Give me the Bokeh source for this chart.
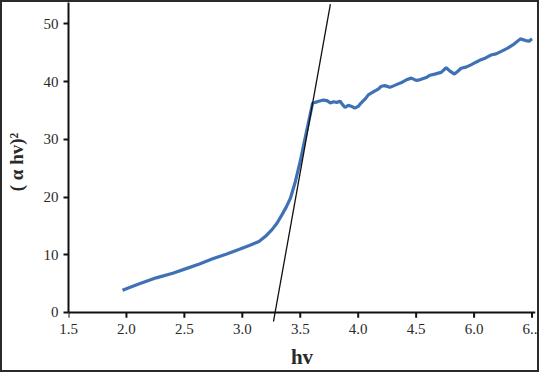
from bokeh.plotting import figure
from bokeh.models import Range1d, FixedTicker, Span
from bokeh.embed import file_html
from bokeh.resources import INLINE

# Tauc plot data (hv, (alpha hv)^2)
hv = [1.966, 2.10, 2.257, 2.40, 2.515, 2.63, 2.744, 2.86, 2.97, 3.06, 3.144, 3.20, 3.258, 3.30,
      3.344, 3.38, 3.415, 3.458, 3.50, 3.53, 3.573, 3.607, 3.63, 3.66, 3.70, 3.73, 3.76, 3.787,
      3.815, 3.844, 3.865, 3.887, 3.915, 3.944, 3.97, 4.0, 4.02, 4.045, 4.065, 4.087, 4.13, 4.173,
      4.20, 4.23, 4.273, 4.31, 4.345, 4.38, 4.416, 4.459, 4.50, 4.53, 4.587, 4.62, 4.66, 4.716,
      4.759, 4.787, 4.83, 4.86, 4.888, 4.93, 4.973, 5.02, 5.06, 5.10, 5.145, 5.19, 5.23, 5.29,
      5.345, 5.40, 5.445, 5.475, 5.50]
ahv2 = [3.86, 4.9, 6.0, 6.8, 7.6, 8.4, 9.3, 10.1, 10.9, 11.6, 12.3, 13.2, 14.4, 15.5,
        17.0, 18.3, 19.8, 22.7, 26.2, 29.1, 33.1, 36.3, 36.4, 36.6, 36.8, 36.7, 36.3, 36.5,
        36.4, 36.6, 36.0, 35.5, 35.9, 35.7, 35.4, 35.7, 36.2, 36.7, 37.1, 37.7, 38.2, 38.7,
        39.2, 39.3, 39.0, 39.3, 39.6, 39.9, 40.3, 40.6, 40.2, 40.3, 40.7, 41.1, 41.3, 41.6,
        42.4, 41.9, 41.3, 41.8, 42.3, 42.5, 42.9, 43.4, 43.8, 44.1, 44.6, 44.8, 45.2, 45.8,
        46.5, 47.4, 47.1, 47.0, 47.4]

# tangent (extrapolation) line
tangent_x = [3.265, 3.76]
tangent_y = [-2.0, 53.4]

x_ticks = [1.5, 2.0, 2.5, 3.0, 3.5, 4.0, 4.5, 5.0, 5.5]
x_tick_labels = ["1.5", "2.0", "2.5", "3.0", "3.5", "4.0", "4.5", "6.0", "6.."]
y_ticks = [0, 10, 20, 30, 40, 50]

p = figure(width=539, height=372, output_backend="svg", toolbar_location=None,
           x_range=Range1d(1.5, 5.53), y_range=Range1d(-1.56, 53.7),
           min_border_left=64, min_border_right=6, min_border_top=0, min_border_bottom=53)
p.styles = {"border": "2px solid #2a2a2a"}
p.outline_line_color = None
p.grid.visible = False
p.background_fill_color = "white"

p.line(hv, ahv2, line_color="#3f72b5", line_width=3.2)
p.line(tangent_x, tangent_y, line_color="#111111", line_width=1.3)

# x axis line at y = 0 and its ticks (ticks hang below zero)
p.add_layout(Span(location=0, dimension="width", line_color="#111111", line_width=2))
p.segment(x0=x_ticks, y0=[0] * len(x_ticks), x1=x_ticks, y1=[-0.9] * len(x_ticks),
          line_color="#111111", line_width=2)

for ax in (p.xaxis, p.yaxis):
    ax.axis_line_color = "#111111"
    ax.axis_line_width = 2
    ax.major_tick_line_color = "#111111"
    ax.major_tick_line_width = 2
    ax.major_tick_out = 5
    ax.major_tick_in = 0
    ax.minor_tick_line_color = None
    ax.major_label_text_font = "Liberation Serif"
    ax.major_label_text_font_size = "15px"
    ax.major_label_text_color = "#2a2a2a"
    ax.axis_label_text_font = "Liberation Serif"
    ax.axis_label_text_font_style = "bold"
    ax.axis_label_text_color = "#2a2a2a"

p.xaxis.axis_line_color = None
p.xaxis.major_tick_line_color = None
p.xaxis.major_tick_out = 0
p.xaxis.major_label_standoff = 2
p.xaxis.ticker = FixedTicker(ticks=x_ticks)
p.xaxis.major_label_overrides = {t: l for t, l in zip(x_ticks, x_tick_labels)}
p.xaxis.axis_label = "hv"
p.xaxis.axis_label_text_font_size = "21px"
p.xaxis.axis_label_standoff = 8

p.yaxis.ticker = FixedTicker(ticks=y_ticks)
p.yaxis.bounds = (0, 53.7)
p.yaxis.major_label_standoff = 5
p.yaxis.axis_label = "( α hv)²"
p.yaxis.axis_label_text_font_size = "19px"
p.yaxis.axis_label_standoff = 14

open("out.html", "w").write(file_html(p, INLINE))
